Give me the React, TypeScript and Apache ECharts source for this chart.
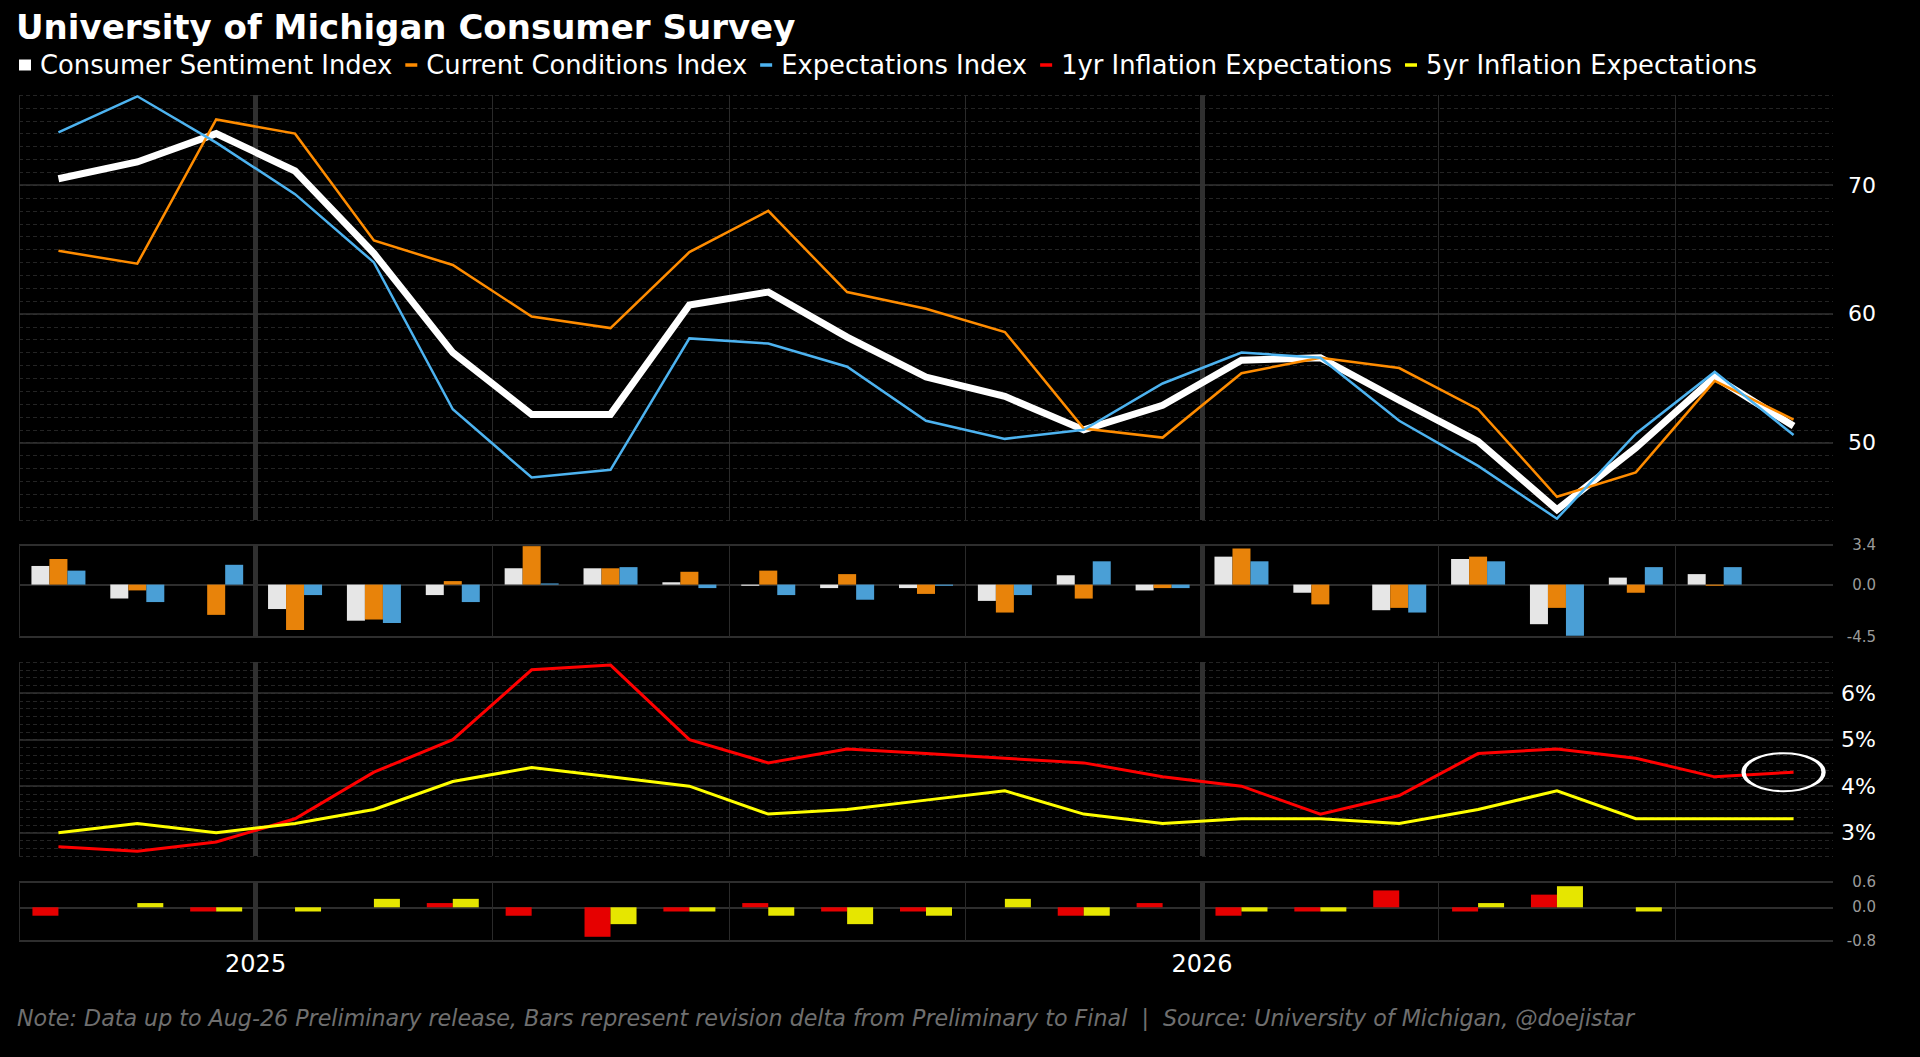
import { useEffect, useRef } from 'react'
import * as echarts from 'echarts'

// monthly observations, Oct-24 .. Aug-26 (Aug-26 = preliminary)
const months = [
  'Oct-24', 'Nov-24', 'Dec-24', 'Jan-25', 'Feb-25', 'Mar-25', 'Apr-25', 'May-25',
  'Jun-25', 'Jul-25', 'Aug-25', 'Sep-25', 'Oct-25', 'Nov-25', 'Dec-25', 'Jan-26',
  'Feb-26', 'Mar-26', 'Apr-26', 'May-26', 'Jun-26', 'Jul-26', 'Aug-26'
]

const sentiment = [70.5, 71.8, 74.0, 71.1, 64.7, 57.0, 52.2, 52.2, 60.7, 61.7, 58.2, 55.1, 53.6, 51.0, 52.9, 56.4, 56.6, 53.3, 50.1, 44.8, 49.6, 55.1, 51.3]
const currentConditions = [64.9, 63.9, 75.1, 74.0, 65.7, 63.8, 59.8, 58.9, 64.8, 68.0, 61.7, 60.4, 58.6, 51.1, 50.4, 55.4, 56.6, 55.8, 52.6, 45.8, 47.7, 54.8, 51.8]
const expectations = [74.1, 76.9, 73.3, 69.3, 64.0, 52.6, 47.3, 47.9, 58.1, 57.7, 55.9, 51.7, 50.3, 51.0, 54.6, 57.0, 56.6, 51.7, 48.2, 44.1, 50.7, 55.5, 50.6]

// revision deltas, preliminary -> final (none yet for the latest month)
const sentimentRev = [1.6, -1.2, 0, -2.1, -3.1, -0.9, 1.4, 1.4, 0.2, -0.1, -0.3, -0.3, -1.4, 0.8, -0.5, 2.4, -0.7, -2.2, 2.2, -3.4, 0.6, 0.9, null]
const currentRev = [2.2, -0.5, -2.6, -3.9, -3.0, 0.3, 3.3, 1.4, 1.1, 1.2, 0.9, -0.8, -2.4, -1.2, -0.3, 3.1, -1.7, -2.0, 2.4, -2.0, -0.7, -0.1, null]
const expectationsRev = [1.2, -1.5, 1.7, -0.9, -3.3, -1.5, 0.1, 1.5, -0.3, -0.9, -1.3, -0.1, -0.9, 2.0, -0.3, 2.0, 0, -2.4, 2.0, -4.4, 1.5, 1.5, null]

const inflation1y = [2.7, 2.6, 2.8, 3.3, 4.3, 5.0, 6.5, 6.6, 5.0, 4.5, 4.8, 4.7, 4.6, 4.5, 4.2, 4.0, 3.4, 3.8, 4.7, 4.8, 4.6, 4.2, 4.3]
const inflation5y = [3.0, 3.2, 3.0, 3.2, 3.5, 4.1, 4.4, 4.2, 4.0, 3.4, 3.5, 3.7, 3.9, 3.4, 3.2, 3.3, 3.3, 3.2, 3.5, 3.9, 3.3, 3.3, 3.3]
const inflation1yRev = [-0.2, 0, -0.1, 0, 0, 0.1, -0.2, -0.7, -0.1, 0.1, -0.1, -0.1, 0, -0.2, 0.1, -0.2, -0.1, 0.4, -0.1, 0.3, 0, null, null]
const inflation5yRev = [0, 0.1, -0.1, -0.1, 0.2, 0.2, 0, -0.4, -0.1, -0.2, -0.4, -0.2, 0.2, -0.2, 0, -0.1, -0.1, 0, 0.1, 0.5, -0.1, null, null]

const sentimentTicks = [50, 60, 70]
const inflationTicks = [3, 4, 5, 6]

const FONT = 'DejaVu Sans'
const NAMES = [
  'Consumer Sentiment Index',
  'Current Conditions Index',
  'Expectations Index',
  '1yr Inflation Expectations',
  '5yr Inflation Expectations'
]
const DASH = 'path://M0,0h12v3.5h-12z'
const NOTE = 'Note: Data up to Aug-26 Preliminary release, Bars represent revision delta from Preliminary to Final \u00a0|\u00a0 Source: University of Michigan, @doejistar'

const pts = (vals: (number | null)[]) => months.map((_, i) => [i + 0.5, vals[i]])
const yearStarts = months.map((m, i) => (m.startsWith('Jan') ? i : -1)).filter((i) => i >= 0)

// thick year separators + solid major gridlines
const guides = (majors: number[]) => ({
  silent: true,
  z: 1,
  symbol: ['none', 'none'],
  label: { show: false },
  data: [
    ...yearStarts.map((i) => ({ xAxis: i, lineStyle: { color: '#303030', width: 5, type: 'solid' } })),
    ...majors.map((v) => ({ yAxis: v, lineStyle: { color: '#333333', width: 1.5, type: 'solid' } }))
  ]
})

// bar series shift their markers by the bar offset, so the bar panels get a plain carrier
const guideSeries = (gridIndex: number) => ({
  name: 'guides-' + gridIndex,
  type: 'line',
  xAxisIndex: gridIndex,
  yAxisIndex: gridIndex,
  data: [],
  symbol: 'none',
  silent: true,
  markLine: guides([])
})

const xAxisFor = (gridIndex: number, showLabels: boolean) => ({
  type: 'value',
  gridIndex,
  min: 0,
  max: months.length,
  interval: 3,
  axisLine: { show: false },
  axisTick: { show: false },
  splitLine: { show: true, showMaxLine: false, lineStyle: { color: '#2a2a2a', width: 1 } },
  axisLabel: {
    show: showLabels,
    color: '#ffffff',
    fontSize: 24,
    fontFamily: FONT,
    margin: 11,
    formatter: (v: number) => {
      const m = months[v]
      return m && m.startsWith('Jan') ? '20' + m.slice(4) : ''
    }
  }
})

const revAxis = (gridIndex: number, min: number, max: number, interval: number) => ({
  type: 'value',
  gridIndex,
  position: 'right',
  min,
  max,
  interval,
  axisLine: { show: false },
  axisTick: { show: false },
  splitLine: { lineStyle: { color: '#2e2e2e', width: 2 } },
  axisLabel: {
    color: '#9a9a9a',
    fontSize: 15,
    fontFamily: FONT,
    align: 'right',
    margin: 43,
    formatter: (v: number) => v.toFixed(1)
  }
})

export default function App() {
  const chartRef = useRef<HTMLDivElement>(null)

  useEffect(() => {
    if (!chartRef.current) return
    const chart = echarts.init(chartRef.current, null, { renderer: 'svg' })

    const option = {
      animation: false,
      backgroundColor: '#000000',
      title: [
        {
          text: 'University of Michigan Consumer Survey',
          left: 16,
          top: 10,
          padding: 0,
          textStyle: { color: '#ffffff', fontSize: 34, fontWeight: 'bold', fontFamily: FONT }
        },
        {
          text: NOTE,
          left: 17,
          top: 1007,
          padding: 0,
          textStyle: { color: '#6f6f6f', fontSize: 22.2, fontStyle: 'italic', fontWeight: 'normal', fontFamily: FONT }
        }
      ],
      legend: {
        left: 19,
        top: 52,
        padding: 0,
        itemWidth: 12,
        itemHeight: 11,
        itemGap: 13,
        selectedMode: false,
        itemStyle: { borderWidth: 0 },
        textStyle: { color: '#ffffff', fontSize: 25.8, fontFamily: FONT, padding: [0, 0, 0, 4] },
        data: NAMES.map((name, i) => ({ name, icon: i === 0 ? 'rect' : DASH }))
      },
      grid: [
        { left: 19, right: 87, top: 95, height: 425 },
        { left: 19, right: 87, top: 545, height: 92 },
        { left: 19, right: 87, top: 662, height: 194 },
        { left: 19, right: 87, top: 882, height: 59 }
      ],
      xAxis: [xAxisFor(0, false), xAxisFor(1, false), xAxisFor(2, false), xAxisFor(3, true)],
      yAxis: [
        {
          type: 'value',
          gridIndex: 0,
          position: 'right',
          min: 44,
          max: 77,
          interval: 1,
          axisLine: { show: false },
          axisTick: { show: false },
          splitLine: { lineStyle: { color: '#242424', width: 1, type: [4, 3] } },
          axisLabel: {
            color: '#ffffff',
            fontSize: 22,
            fontFamily: FONT,
            align: 'right',
            margin: 43,
            formatter: (v: number) => (sentimentTicks.includes(v) ? String(v) : '')
          }
        },
        revAxis(1, -4.5, 3.4, 4.5),
        {
          type: 'value',
          gridIndex: 2,
          position: 'right',
          min: 2.5,
          max: 40 / 6,
          interval: 1 / 6,
          axisLine: { show: false },
          axisTick: { show: false },
          splitLine: { lineStyle: { color: '#242424', width: 1, type: [4, 3] } },
          axisLabel: {
            color: '#ffffff',
            fontSize: 22,
            fontFamily: FONT,
            align: 'right',
            margin: 43,
            formatter: (v: number) => {
              const t = inflationTicks.find((k) => Math.abs(k - v) < 1e-6)
              return t === undefined ? '' : t + '%'
            }
          }
        },
        revAxis(3, -0.8, 0.6, 0.8)
      ],
      series: [
        {
          name: NAMES[0],
          type: 'line',
          xAxisIndex: 0,
          yAxisIndex: 0,
          data: pts(sentiment),
          symbol: 'none',
          itemStyle: { color: '#ffffff' },
          lineStyle: { color: '#ffffff', width: 7, join: 'miter', cap: 'butt' },
          markLine: guides(sentimentTicks)
        },
        {
          name: NAMES[1],
          type: 'line',
          xAxisIndex: 0,
          yAxisIndex: 0,
          data: pts(currentConditions),
          symbol: 'none',
          itemStyle: { color: '#ff8c00' },
          lineStyle: { color: '#ff8c00', width: 2.5, join: 'miter' }
        },
        {
          name: NAMES[2],
          type: 'line',
          xAxisIndex: 0,
          yAxisIndex: 0,
          data: pts(expectations),
          symbol: 'none',
          itemStyle: { color: '#4db3f0' },
          lineStyle: { color: '#4db3f0', width: 2.5, join: 'miter' }
        },
        guideSeries(1),
        {
          name: 'Sentiment revision',
          type: 'bar',
          xAxisIndex: 1,
          yAxisIndex: 1,
          data: pts(sentimentRev),
          barWidth: 18,
          barGap: '0%',
          itemStyle: { color: '#e6e6e6' }
        },
        {
          name: 'Current revision',
          type: 'bar',
          xAxisIndex: 1,
          yAxisIndex: 1,
          data: pts(currentRev),
          barWidth: 18,
          barGap: '0%',
          itemStyle: { color: '#e8830a' }
        },
        {
          name: 'Expectations revision',
          type: 'bar',
          xAxisIndex: 1,
          yAxisIndex: 1,
          data: pts(expectationsRev),
          barWidth: 18,
          barGap: '0%',
          itemStyle: { color: '#4a9fd6' }
        },
        {
          name: NAMES[3],
          type: 'line',
          xAxisIndex: 2,
          yAxisIndex: 2,
          data: pts(inflation1y),
          symbol: 'none',
          itemStyle: { color: '#ff0000' },
          lineStyle: { color: '#ff0000', width: 3, join: 'miter' },
          markLine: guides(inflationTicks),
          markPoint: {
            silent: true,
            symbol: 'path://M0,50A50,50,0,1,1,100,50A50,50,0,1,1,0,50Z',
            symbolSize: [80, 38],
            symbolOffset: [-10, 0],
            label: { show: false },
            itemStyle: { color: 'rgba(0,0,0,0)', borderColor: '#ffffff', borderWidth: 3 },
            data: [{ coord: [months.length - 0.5, inflation1y[inflation1y.length - 1]] }]
          }
        },
        {
          name: NAMES[4],
          type: 'line',
          xAxisIndex: 2,
          yAxisIndex: 2,
          data: pts(inflation5y),
          symbol: 'none',
          itemStyle: { color: '#ffff00' },
          lineStyle: { color: '#ffff00', width: 3, join: 'miter' }
        },
        guideSeries(3),
        {
          name: '1yr revision',
          type: 'bar',
          xAxisIndex: 3,
          yAxisIndex: 3,
          data: pts(inflation1yRev),
          barWidth: 26,
          barGap: '0%',
          itemStyle: { color: '#e60000' }
        },
        {
          name: '5yr revision',
          type: 'bar',
          xAxisIndex: 3,
          yAxisIndex: 3,
          data: pts(inflation5yRev),
          barWidth: 26,
          barGap: '0%',
          itemStyle: { color: '#e6e600' }
        }
      ]
    }

    chart.setOption(option as any)

    const handleResize = () => chart.resize()
    window.addEventListener('resize', handleResize)

    return () => {
      window.removeEventListener('resize', handleResize)
      chart.dispose()
    }
  }, [])

  return (
    <div
      ref={chartRef}
      style={{ position: 'fixed', left: 0, top: 0, width: '100vw', height: '100vh', background: '#000' }}
    />
  )
}
